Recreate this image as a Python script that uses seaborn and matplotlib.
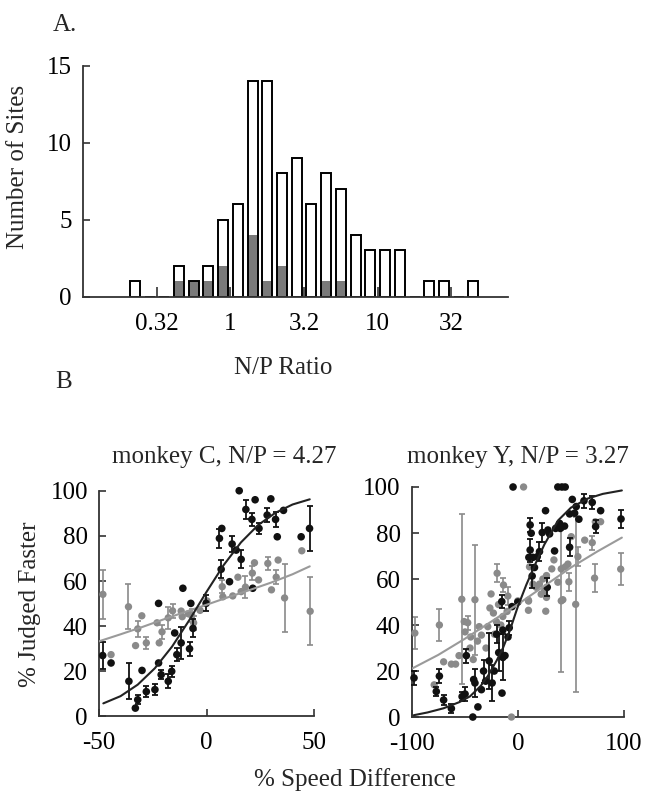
import numpy as np
import pandas as pd
import matplotlib
matplotlib.use("Agg")
import matplotlib.pyplot as plt
from matplotlib.ticker import FixedLocator, NullLocator, FixedFormatter
import seaborn as sns

# ---------------- data ----------------
# Panel A: histogram of N/P ratio (bin centres in log10 units, width 0.1)
bin_centers_log10 = [-0.65, -0.55, -0.45, -0.35, -0.25, -0.15, -0.05, 0.05, 0.15, 0.25,
                     0.35, 0.45, 0.55, 0.65, 0.75, 0.85, 0.95, 1.05, 1.15, 1.25,
                     1.35, 1.45, 1.55, 1.65]
all_sites = [1, 0, 0, 2, 1, 2, 5, 6, 14, 14, 8, 9, 6, 8, 7, 4, 3, 3, 3, 0, 1, 1, 0, 1]
gray_sites = [0, 0, 0, 1, 1, 1, 2, 0, 4, 1, 2, 0, 0, 1, 1, 0, 0, 0, 0, 0, 0, 0, 0, 0]
hist_xticks = [10 ** -0.5, 1, 10 ** 0.5, 10, 10 ** 1.5]
hist_xticklabels = ["0.32", "1", "3.2", "10", "32"]
hist_yticks = [0, 5, 10, 15]

# Panel B left: monkey C
lc_black_x = [-48.3, -44.4, -36.1, -33.1, -32.0, -30.0, -28.0, -24.0, -22.3, -21.1, -17.8, -16.2,
              -22.3, -14.8, -13.8, -11.8, -7.9, -7.3, -6.3, -11.0, -0.2, 6.0, 7.1, 6.8, 10.7,
              11.9, 13.8, 16.1, 15.2, 18.3, 21.1, 22.6, 24.4, 28.2, 29.9, 32.1, 32.9, 35.8,
              44.0, 47.9, 21.5]
lc_black_y = [27.0, 23.7, 15.6, 3.7, 7.4, 20.4, 11.0, 11.9, 23.7, 18.5, 15.6, 20.0,
              50.1, 37.0, 27.4, 32.6, 30.0, 50.1, 39.0, 56.8, 50.1, 78.9, 83.3, 65.2, 59.7,
              76.4, 73.7, 69.6, 100.0, 91.7, 87.3, 96.0, 83.3, 89.2, 96.4, 87.3, 79.6, 91.3,
              79.6, 83.3, 56.8]
lc_black_err = [6, 0, 8, 0, 2, 0, 2.5, 2.5, 0, 2, 3, 2.5,
                0, 0, 3, 7, 3, 0, 4, 0, 3.5, 4.3, 0, 4, 0,
                3.5, 0, 4, 0, 4, 3, 0, 2.5, 3, 0, 3.5, 0, 0,
                0, 10, 0]

lc_gray_x = [-48.2, -44.4, -36.3, -33.0, -32.0, -30.1, -28.0, -22.0, -23.0, -20.7, -17.8,
             -15.8, -11.8, -6.9, -6.0, -11.3, -3.0, 0.2, 7.3, 7.6, 12.2, 14.6, 16.1, 18.1,
             21.3, 22.3, 24.2, 28.5, 30.2, 32.4, 33.3, 36.3, 44.3, 48.2, -8.5]
lc_gray_y = [54.1, 27.4, 48.6, 31.4, 38.8, 44.6, 32.6, 32.6, 41.5, 37.5, 43.7,
             46.8, 46.7, 44.7, 41.5, 44.2, 47.0, 51.2, 57.5, 53.0, 53.4, 61.7, 55.3, 57.3,
             63.5, 68.1, 60.5, 67.8, 56.1, 61.7, 69.3, 52.5, 73.4, 46.6, 45.5]
lc_gray_err = [11, 0, 10, 0, 3.5, 0, 2.5, 0, 0, 3, 5,
               3, 0, 3, 3, 0, 0, 0, 3, 0, 0, 0, 0, 5,
               3, 0, 0, 3, 0, 3, 0, 15, 0, 15, 0]

lc_fit_black_x = [-48, -40, -32, -24, -16, -8, 0, 8, 16, 24, 32, 40, 48]
lc_fit_black_y = [5.8, 9.0, 14.1, 21.4, 31.0, 42.7, 55.2, 67.1, 77.1, 84.8, 90.2, 93.9, 96.2]
lc_fit_gray_x = [-50, -40, -30, -20, -10, 0, 10, 20, 30, 40, 48]
lc_fit_gray_y = [33.3, 36.4, 39.6, 43.0, 46.3, 49.5, 52.8, 56.0, 59.3, 63.0, 66.5]

# Panel B right: monkey Y
ry_black_x = [-97.8, -76.8, -73.9, -69.9, -62.6, -52.5, -49.7, -48.5, -42.4, -41.6, -40.4,
              -37.6, -34.3, -32.3, -30.3, -27.0, -24.2, -22.2, -14.9, -14.1, -12.1, -9.3,
              -14.1, -8.1, -15.1, 0.0, -4.5, 37.7, 41.5, 44.6, 26.1, 51.3, 62.3, 70.1, 78.0,
              73.3, 97.2, 11.6, 12.6, 11.6, 10.4, 14.2, 18.3, 20.4, 23.0, 28.3, 29.9, 35.6,
              39.3, 40.0, 44.0, 34.6, 48.8, 48.8, 53.5, 57.5, 55.0, 13.5, 15.7, 27.7,
              -20.0, -18.0, -5.5]
ry_black_y = [17.0, 11.1, 17.8, 7.4, 3.7, 8.9, 10.0, 26.7, 0.0, 16.3, 14.8,
              4.4, 11.9, 20.0, 15.6, 24.4, 14.8, 20.0, 10.4, 25.9, 26.7, 34.8,
              37.8, 38.8, 50.2, 50.0, 100.0, 100.0, 100.0, 100.0, 89.7, 94.6, 94.0, 93.3, 89.7,
              82.8, 86.1, 83.5, 79.9, 72.6, 69.4, 69.4, 69.7, 71.9, 80.2, 81.3, 79.6, 82.0,
              84.2, 82.0, 83.0, 72.2, 73.8, 88.3, 88.6, 86.0, 91.5, 61.3, 65.0, 56.4,
              36.0, 28.0, 48.0]
ry_black_err = [3, 2, 3, 2, 2, 2, 3, 3, 0, 0, 6,
                0, 0, 5, 0, 12, 8, 0, 0, 10, 0, 0,
                0, 3, 3, 0, 0, 0, 0, 0, 0, 0, 3, 3, 0,
                3, 4, 3, 0, 5, 0, 0, 0, 4, 4, 0, 0, 0,
                0, 0, 0, 0, 4, 0, 0, 0, 0, 5, 0, 4,
                4, 8, 0]

ry_gray_x = [-97.0, -73.9, -69.9, -78.8, -62.6, -58.6, -55.4, -50.5, -49.7, -44.4, -40.4,
             -52.8, -47.2, -36.4, -34.3, -28.3, -26.3, -23.0, -20.2, -18.2, -14.1, -10.1,
             10.1, 26.3, 42.4, 54.5, -6.0, -25.2, -19.5, -13.5, -9.4, 0.0, 10.0, 10.0,
             11.0, 14.2, 17.3, 20.4, 22.0, 23.6, 25.2, 27.0, 27.0, 32.0, 34.0, 37.7, 40.9,
             40.9, 44.7, 47.2, 48.1, 50.3, 56.6, 63.0, 70.1, 73.0, 78.0, 72.3, 96.9, 5.4,
             -45.0, -42.0, -38.0, -30.0, -22.0, -16.0]
ry_gray_y = [36.5, 40.0, 24.0, 14.0, 23.0, 23.0, 26.7, 41.5, 37.0, 34.8, 51.0,
             51.2, 41.0, 39.3, 35.6, 39.3, 47.4, 45.2, 41.5, 48.9, 43.7, 45.9,
             50.4, 46.0, 51.0, 49.0, 0.0, 53.5, 62.5, 57.4, 52.6, 50.5, 50.8, 46.4,
             65.3, 57.8, 56.4, 57.8, 53.4, 60.0, 54.9, 61.5, 52.0, 64.4, 68.3, 58.6, 64.4,
             50.5, 65.3, 66.5, 58.8, 78.4, 69.7, 76.9, 75.8, 84.9, 84.9, 60.4, 64.3, 100.0,
             30.0, 25.0, 33.0, 30.0, 36.0, 40.0]
ry_gray_err = [7, 7, 0, 0, 0, 0, 0, 0, 0, 0, 24,
               37, 3, 0, 0, 0, 0, 0, 0, 0, 0, 0,
               0, 0, 0, 38, 0, 0, 4, 3, 4, 0, 0, 0,
               0, 0, 0, 0, 0, 0, 0, 0, 0, 0, 0, 0, 0,
               31, 0, 0, 4, 0, 4, 0, 3, 0, 0, 6, 7, 0,
               0, 0, 0, 0, 0, 0]

ry_fit_black_x = [-98, -85, -70, -55, -45, -35, -28, -20, -14, -8, 0, 8, 16, 25, 38, 50, 66, 80, 98]
ry_fit_black_y = [0.8, 2.0, 3.8, 6.5, 9.0, 13.5, 18.0, 24.5, 30.0, 37.0, 48.0, 57.5, 66.0,
                  75.0, 85.5, 91.0, 95.0, 97.0, 98.5]
ry_fit_gray_x = [-100, -75, -50, -25, 0, 25, 50, 75, 98]
ry_fit_gray_y = [21.0, 27.0, 34.0, 41.5, 49.0, 57.0, 65.0, 72.0, 78.0]

# ---------------- style ----------------
sns.set_style("ticks")
plt.rcParams["font.family"] = ["Liberation Serif", "DejaVu Serif"]
plt.rcParams["font.size"] = 18
plt.rcParams["xtick.direction"] = "in"
plt.rcParams["ytick.direction"] = "in"
plt.rcParams["axes.unicode_minus"] = False

SPINE = "#333333"
BLACK = "#111111"
GRAY = "#8a8a8a"
FS = 18

fig = plt.figure(figsize=(6.61, 7.96), dpi=100)

def style_axis(ax):
    for s in ["top", "right"]:
        ax.spines[s].set_visible(False)
    for s in ["left", "bottom"]:
        ax.spines[s].set_color(SPINE)
        ax.spines[s].set_linewidth(1.3)
    ax.tick_params(axis="both", direction="in", length=5, width=1.2, color=SPINE,
                   labelsize=FS, labelcolor="black")
    ax.tick_params(axis="y", pad=8)
    ax.tick_params(axis="x", pad=11.5)
    ax.set_xlabel("")
    ax.set_ylabel("")

# ---------------- Panel A ----------------
ax_h = fig.add_axes([0.1256, 0.6273, 0.643, 0.2902])
hist_df = pd.DataFrame({
    "ratio": [10 ** c for c in bin_centers_log10],
    "all": all_sites,
    "gray": gray_sites,
})
sns.histplot(data=hist_df, x="ratio", weights="gray", log_scale=True, binwidth=0.1,
             binrange=(-0.7, 1.7), shrink=0.68, color="#7a7a7a", alpha=1,
             edgecolor="none", linewidth=0, ax=ax_h)
sns.histplot(data=hist_df, x="ratio", weights="all", log_scale=True, binwidth=0.1,
             binrange=(-0.7, 1.7), shrink=0.68, fill=False, color="black",
             edgecolor="black", linewidth=1.4, ax=ax_h)
ax_h.set_xlim(0.1, 77)
ax_h.set_ylim(0, 15)
ax_h.xaxis.set_major_locator(FixedLocator(hist_xticks))
ax_h.xaxis.set_major_formatter(FixedFormatter(hist_xticklabels))
ax_h.xaxis.set_minor_locator(NullLocator())
ax_h.set_yticks(hist_yticks)
style_axis(ax_h)
ax_h.tick_params(axis="x", length=7)

# ---------------- Panel B ----------------
def draw_panel(ax, bx, by, be, gx, gy, ge, fbx, fby, fgx, fgy):
    bx, by, be = np.array(bx), np.array(by), np.array(be)
    gx, gy, ge = np.array(gx), np.array(gy), np.array(ge)
    mb = be > 0
    mg = ge > 0
    ax.errorbar(gx[mg], gy[mg], yerr=ge[mg], fmt="none", ecolor=GRAY, elinewidth=1.2,
                capsize=2.5, capthick=1.2, clip_on=False, zorder=2)
    sns.scatterplot(x=gx, y=gy, color=GRAY, s=28, edgecolor="none", ax=ax,
                    legend=False, clip_on=False, zorder=3)
    ax.errorbar(bx[mb], by[mb], yerr=be[mb], fmt="none", ecolor=BLACK, elinewidth=1.3,
                capsize=2.5, capthick=1.3, clip_on=False, zorder=4)
    sns.scatterplot(x=bx, y=by, color=BLACK, s=30, edgecolor="none", ax=ax,
                    legend=False, clip_on=False, zorder=5)
    sns.lineplot(x=fgx, y=fgy, color="#9a9a9a", linewidth=1.5, ax=ax, zorder=6)
    sns.lineplot(x=fbx, y=fby, color="#222222", linewidth=1.5, ax=ax, zorder=7)
    ax.set_ylim(0, 100)
    ax.set_yticks([0, 20, 40, 60, 80, 100])
    style_axis(ax)

ax_l = fig.add_axes([0.1498, 0.0999, 0.3253, 0.2836])
draw_panel(ax_l, lc_black_x, lc_black_y, lc_black_err, lc_gray_x, lc_gray_y, lc_gray_err,
           lc_fit_black_x, lc_fit_black_y, lc_fit_gray_x, lc_fit_gray_y)
ax_l.set_xlim(-50, 50)
ax_l.set_xticks([-50, 0, 50])

ax_r = fig.add_axes([0.6228, 0.0992, 0.3212, 0.2890])
draw_panel(ax_r, ry_black_x, ry_black_y, ry_black_err, ry_gray_x, ry_gray_y, ry_gray_err,
           ry_fit_black_x, ry_fit_black_y, ry_fit_gray_x, ry_fit_gray_y)
ax_r.set_xlim(-100, 100)
ax_r.set_xticks([-100, 0, 100])

# ---------------- texts ----------------
W, H = 661, 796
def ftext(x, y, s, **kw):
    fig.text(x / W, 1 - y / H, s, fontsize=FS, **kw)

ftext(53, 25, "A.", ha="left", va="center")
ftext(18, 167, "Number of Sites", ha="center", va="center", rotation=90)
ftext(283, 368, "N/P Ratio", ha="center", va="center")
ftext(55, 382, "B", ha="left", va="center")
ftext(224, 457, "monkey C, N/P = 4.27", ha="center", va="center")
ftext(518, 457, "monkey Y, N/P = 3.27", ha="center", va="center")
ftext(30, 604, "% Judged Faster", ha="center", va="center", rotation=90)
ftext(355, 780, "% Speed Difference", ha="center", va="center")

fig.savefig("out.png", dpi=100)
